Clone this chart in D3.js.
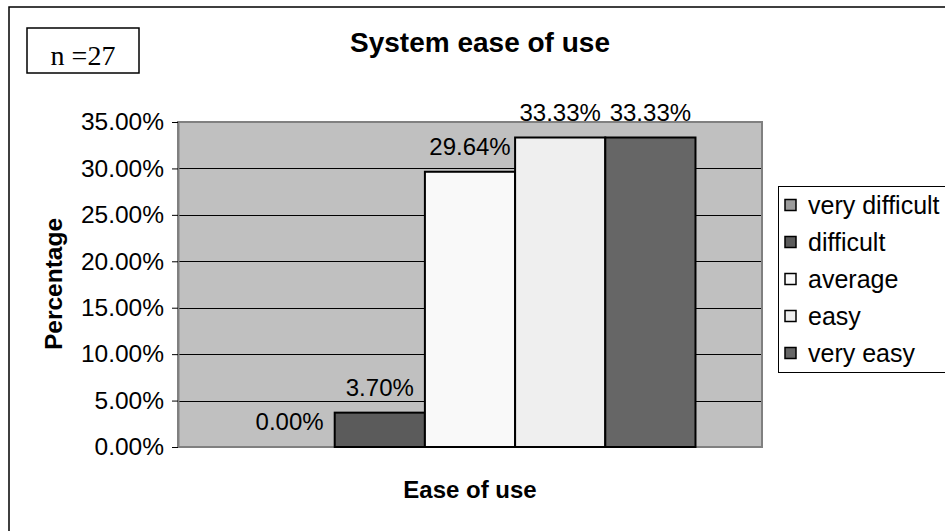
<!DOCTYPE html>
<html>
<head>
<meta charset="utf-8">
<script src="https://cdn.jsdelivr.net/npm/d3@7"></script>
<style>
  html, body { margin: 0; padding: 0; background: #fff; }
  svg { display: block; font-family: "Liberation Sans", Arial, sans-serif; }
</style>
</head>
<body>
<svg id="chart" width="945" height="531"></svg>
<script>
// Survey responses: system ease of use (n = 27)
const categories = ["Ease of use"];
const seriesNames = ["very difficult", "difficult", "average", "easy", "very easy"];
const seriesValues = [0.0, 3.70, 29.64, 33.33, 33.33];
const seriesColors = ["#9c9c9c", "#5b5b5b", "#f9f9f9", "#efefef", "#666666"];
const yTicks = [0, 5, 10, 15, 20, 25, 30, 35];
const sampleSize = 27;

const svg = d3.select("#chart");

// Outer chart frame
svg.append("rect")
  .attr("x", 9).attr("y", 7)
  .attr("width", 960).attr("height", 560)
  .attr("fill", "#fff").attr("stroke", "#000").attr("stroke-width", 1.5);

const plot = { left: 178, right: 762, top: 122, bottom: 447 };

const y = d3.scaleLinear().domain([0, 35]).range([plot.bottom, plot.top]);
const x0 = d3.scaleBand().domain(categories)
  .range([plot.left, plot.right]).paddingInner(0).paddingOuter(0.1475);
const x1 = d3.scaleBand().domain(seriesNames).range([0, x0.bandwidth()]);

// Plot area background
svg.append("rect")
  .attr("x", plot.left).attr("y", plot.top)
  .attr("width", plot.right - plot.left).attr("height", plot.bottom - plot.top)
  .attr("fill", "#c0c0c0");

// Horizontal gridlines
svg.append("g").selectAll("line")
  .data(yTicks.filter(t => t > 0 && t < 35))
  .join("line")
  .attr("x1", plot.left).attr("x2", plot.right)
  .attr("y1", d => Math.round(y(d)) + 0.5).attr("y2", d => Math.round(y(d)) + 0.5)
  .attr("stroke", "#000").attr("stroke-width", 1);

// Plot area border
svg.append("rect")
  .attr("x", plot.left).attr("y", plot.top)
  .attr("width", plot.right - plot.left).attr("height", plot.bottom - plot.top)
  .attr("fill", "none").attr("stroke", "#808080").attr("stroke-width", 2);

// Y axis
const yAxis = d3.axisLeft(y).tickValues(yTicks)
  .tickFormat(d => d.toFixed(2) + "%").tickSizeInner(6).tickSizeOuter(0).tickPadding(8);
const gy = svg.append("g").attr("transform", `translate(${plot.left},0)`).call(yAxis);
gy.select(".domain").attr("stroke", "#808080").attr("stroke-width", 2);
gy.selectAll(".tick line").attr("stroke", "#000");
gy.selectAll(".tick text").attr("font-size", 24.5).attr("fill", "#000")
  .attr("font-family", "'Liberation Sans', Arial, sans-serif");

// Bars
const group = svg.append("g").attr("transform", `translate(${x0(categories[0])},0)`);
const bars = seriesNames.map((name, i) => ({ name, value: seriesValues[i], color: seriesColors[i] }));

group.selectAll("rect.bar")
  .data(bars.filter(d => d.value > 0))
  .join("rect")
  .attr("class", "bar")
  .attr("x", d => x1(d.name))
  .attr("y", d => y(d.value))
  .attr("width", x1.bandwidth())
  .attr("height", d => y(0) - y(d.value))
  .attr("fill", d => d.color)
  .attr("stroke", "#000").attr("stroke-width", 2);

// Value labels
group.selectAll("text.label")
  .data(bars)
  .join("text")
  .attr("class", "label")
  .attr("x", d => x1(d.name) + x1.bandwidth() / 2)
  .attr("y", d => y(d.value) - 17)
  .attr("text-anchor", "middle")
  .attr("font-size", 24)
  .attr("fill", "#000")
  .text(d => d.value.toFixed(2) + "%");

// Title
svg.append("text")
  .attr("x", 480).attr("y", 52)
  .attr("text-anchor", "middle")
  .attr("font-size", 28).attr("font-weight", "bold")
  .text("System ease of use");

// Axis titles
svg.append("text")
  .attr("x", 470).attr("y", 498)
  .attr("text-anchor", "middle")
  .attr("font-size", 24).attr("font-weight", "bold")
  .text(categories[0]);

svg.append("text")
  .attr("transform", "translate(62,284) rotate(-90)")
  .attr("text-anchor", "middle")
  .attr("font-size", 24.5).attr("font-weight", "bold")
  .text("Percentage");

// Sample size box
svg.append("rect")
  .attr("x", 27).attr("y", 28).attr("width", 112).attr("height", 45)
  .attr("fill", "#fff").attr("stroke", "#000").attr("stroke-width", 1.5);
svg.append("text")
  .attr("x", 83).attr("y", 65)
  .attr("text-anchor", "middle")
  .attr("font-family", "'Liberation Serif', 'Times New Roman', serif")
  .attr("font-size", 28)
  .text("n =" + sampleSize);

// Legend
const legend = svg.append("g");
legend.append("rect")
  .attr("x", 778.5).attr("y", 186.5).attr("width", 200).attr("height", 186)
  .attr("fill", "#fff").attr("stroke", "#000").attr("stroke-width", 1);
const item = legend.selectAll("g.item")
  .data(bars)
  .join("g")
  .attr("class", "item")
  .attr("transform", (d, i) => `translate(0,${205 + i * 37})`);
item.append("rect")
  .attr("x", 785).attr("y", -5.5).attr("width", 11).attr("height", 11)
  .attr("fill", d => d.color).attr("stroke", "#000").attr("stroke-width", 1.5);
item.append("text")
  .attr("x", 808).attr("y", 0).attr("dy", "0.35em")
  .attr("font-size", 25)
  .text(d => d.name);
</script>
</body>
</html>
